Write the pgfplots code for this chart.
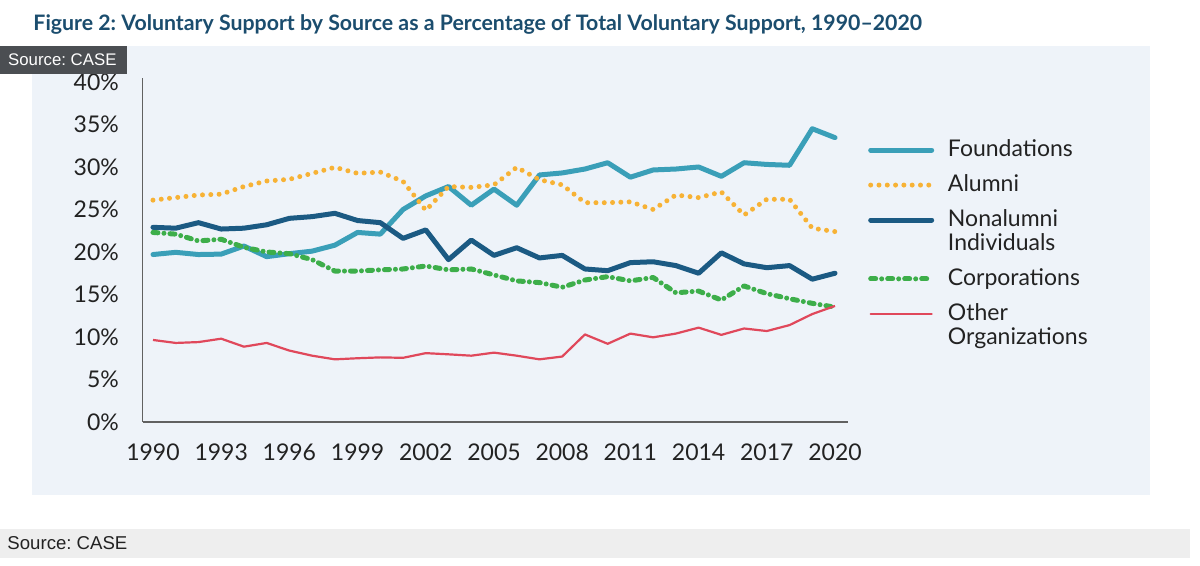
\documentclass[border=0pt]{standalone}
\usepackage{fontspec}
\setmainfont{Lato}
\newfontfamily\srcfont{Liberation Sans}
\usepackage{pgfplots}
\usepackage{pgfplotstable}
\pgfplotsset{compat=1.18}
\pgfplotsset{raisedimg/.style={legend image code/.code={\draw[##1, line cap=round] (0bp,30.3bp) -- (61bp,30.3bp);}}}
\frenchspacing
\definecolor{panel}{HTML}{EEF3F9}
\definecolor{titlecol}{HTML}{1B4D6E}
\definecolor{txt}{HTML}{222222}
\definecolor{cF}{HTML}{3A9FB8}
\definecolor{cA}{HTML}{F7B235}
\definecolor{cN}{HTML}{1B5A83}
\definecolor{cC}{HTML}{3DAE4A}
\definecolor{cO}{HTML}{E0485B}
\definecolor{tip}{HTML}{4B4E52}
\definecolor{srcbar}{HTML}{EEEEEE}
\pgfplotstableread{
year F A N C O
1990 19.70 26.10 22.90 22.30 9.65
1991 19.96 26.40 22.80 22.10 9.30
1992 19.70 26.70 23.45 21.30 9.40
1993 19.75 26.80 22.70 21.50 9.80
1994 20.70 27.70 22.80 20.55 8.86
1995 19.45 28.35 23.20 20.00 9.30
1996 19.80 28.55 23.96 19.80 8.40
1997 20.10 29.25 24.16 19.10 7.80
1998 20.80 29.96 24.55 17.76 7.37
1999 22.30 29.25 23.70 17.76 7.50
2000 22.10 29.40 23.45 17.90 7.60
2001 25.00 28.30 21.60 18.00 7.55
2002 26.60 24.90 22.60 18.35 8.10
2003 27.70 27.70 19.10 17.90 7.96
2004 25.50 27.60 21.40 18.00 7.80
2005 27.40 27.90 19.60 17.30 8.16
2006 25.50 29.96 20.50 16.60 7.80
2007 29.06 28.50 19.30 16.40 7.37
2008 29.30 27.90 19.60 15.85 7.70
2009 29.76 25.80 18.00 16.70 10.30
2010 30.50 25.80 17.80 17.10 9.20
2011 28.80 25.90 18.75 16.60 10.40
2012 29.65 25.00 18.85 17.00 9.96
2013 29.76 26.70 18.40 15.20 10.40
2014 30.00 26.40 17.50 15.40 11.10
2015 28.90 27.06 19.90 14.35 10.25
2016 30.50 24.35 18.60 16.00 11.00
2017 30.30 26.20 18.15 15.10 10.70
2018 30.20 26.20 18.40 14.50 11.40
2019 34.50 22.80 16.80 13.96 12.70
2020 33.45 22.40 17.50 13.50 13.65
}\datatable
\begin{document}
\begin{tikzpicture}[x=1bp,y=1bp]
\useasboundingbox (0,0) rectangle (1200,566);
\fill[white] (0,0) rectangle (1200,566);
\fill[panel] (32,71) rectangle (1150,520.3);
\node[anchor=base west, inner sep=0pt, text=titlecol, font=\fontsize{21.3bp}{23bp}\selectfont\bfseries] at (33.3,535.3) {Figure 2: Voluntary Support by Source as a Percentage of Total Voluntary Support, 1990--2020};
\fill[srcbar] (0,8) rectangle (1190,37);
\node[anchor=base west, inner sep=0pt, text=txt, font=\srcfont\fontsize{18.6bp}{20bp}\selectfont] at (7.3,16) {Source: CASE};
\begin{axis}[
  scale only axis, width=705.4bp, height=344.25bp,
  at={(142.6bp,144bp)}, anchor=south west,
  xmin=1989.543, xmax=2020.572, ymin=0, ymax=40.5,
  axis lines*=left,
  axis line style={draw=black!62, line width=1.3bp},
  xtick={1990,1993,...,2020}, ytick={0,5,...,40},
  major tick length=0pt, tick style={draw=none},
  /pgf/number format/1000 sep={},
  /pgf/number format/assume math mode=true,
  yticklabel={\pgfmathprintnumber{\tick}\%},
  ticklabel style={font=\fontsize{23bp}{24bp}\selectfont, text=txt, inner sep=0pt},
  xticklabel style={anchor=base, yshift=-39bp},
  yticklabel style={anchor=east, xshift=-23.6bp},
  legend cell align=left,
  legend style={at={(1.0286,0.8206)}, anchor=north west, draw=none, fill=none,
    inner sep=0pt, outer sep=0pt, row sep=16.5bp, column sep=13.8bp,
    font=\fontsize{23bp}{24bp}\selectfont,
    nodes={inner sep=0pt, align=left, text=txt},
    cells={anchor=base west}},
  legend image code/.code={\draw[#1, line cap=round] (0bp,6.3bp) -- (61bp,6.3bp);},
  every axis plot/.append style={line join=round},
]
\addplot[cF, line width=5bp, line cap=round] table[x=year, y=F] {\datatable};
\addlegendentry{Foundations}
\addplot[cA, line width=5bp, line cap=round, dash pattern=on 0bp off 8.3bp] table[x=year, y=A] {\datatable};
\addlegendentry{Alumni}
\addplot[cN, line width=5bp, line cap=round, raisedimg] table[x=year, y=N] {\datatable};
\addlegendentry{Nonalumni\\Individuals}
\addplot[cC, line width=5bp, line cap=round, dash pattern=on 5bp off 6bp on 0bp off 6bp] table[x=year, y=C] {\datatable};
\addlegendentry{Corporations}
\addplot[cO, line width=2.2bp, raisedimg] table[x=year, y=O] {\datatable};
\addlegendentry{Other\\Organizations}
\end{axis}
\fill[tip] (0,492) rectangle (127.3,520.3);
\node[anchor=base west, inner sep=0pt, text=white, font=\srcfont\fontsize{16.8bp}{18bp}\selectfont] at (8,500.7) {Source: CASE};
\end{tikzpicture}
\end{document}
